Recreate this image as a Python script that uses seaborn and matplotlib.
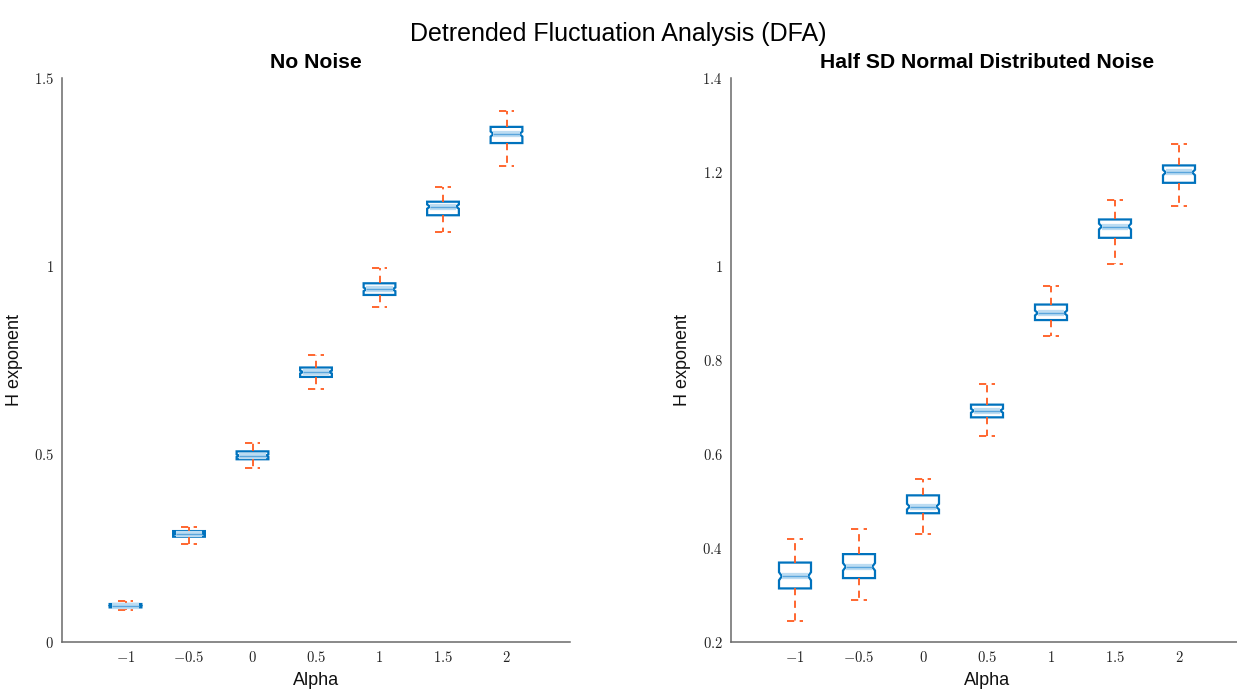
import numpy as np
import pandas as pd
import matplotlib
matplotlib.use("Agg")
import matplotlib.pyplot as plt
from matplotlib.path import Path
import seaborn as sns

alpha_labels = ["-1", "-0.5", "0", "0.5", "1", "1.5", "2"]

# No noise: whisker ends, quartiles and median
clean_lower = [0.085, 0.261, 0.463, 0.673, 0.891, 1.090, 1.265]
clean_q1 = [0.092, 0.280, 0.486, 0.705, 0.923, 1.135, 1.327]
clean_median = [0.0965, 0.288, 0.4955, 0.718, 0.938, 1.158, 1.351]
clean_q3 = [0.101, 0.295, 0.507, 0.730, 0.954, 1.171, 1.370]
clean_upper = [0.108, 0.306, 0.528, 0.763, 0.994, 1.209, 1.412]

# Half SD normal distributed noise
noisy_lower = [0.245, 0.289, 0.430, 0.638, 0.852, 1.004, 1.128]
noisy_q1 = [0.314, 0.336, 0.474, 0.678, 0.885, 1.060, 1.177]
noisy_median = [0.340, 0.360, 0.488, 0.692, 0.900, 1.084, 1.199]
noisy_q3 = [0.369, 0.387, 0.512, 0.705, 0.918, 1.099, 1.214]
noisy_upper = [0.420, 0.441, 0.547, 0.748, 0.957, 1.140, 1.259]

n_obs = 100  # runs per alpha, sets the notch height (1.57 * IQR / sqrt(n))

clean_yticks = [0, 0.5, 1, 1.5]
noisy_yticks = [0.2, 0.4, 0.6, 0.8, 1, 1.2, 1.4]

BLUE = "#0072BD"
LIGHT_BLUE = "#bcdcf2"
MID_BLUE = "#5aa5dc"
ORANGE = "#FF5A1F"
AXIS_GRAY = "#6a6a6a"


def make_frame(*stats):
    rows = []
    for i, a in enumerate(alpha_labels):
        for s in stats:
            rows.append({"Alpha": a, "H": s[i]})
    return pd.DataFrame(rows)


def draw_panel(ax, df, title, yticks, ylim):
    dash = (0, (4, 3))
    sns.boxplot(
        data=df,
        x="Alpha",
        y="H",
        order=alpha_labels,
        ax=ax,
        whis=(0, 100),
        width=0.5,
        color="white",
        saturation=1,
        linecolor=BLUE,
        linewidth=1.6,
        showfliers=False,
        shownotches=True,
        whiskerprops=dict(color=ORANGE, linestyle=dash, linewidth=1.3),
        capprops=dict(color=ORANGE, linestyle=dash, linewidth=1.3),
        medianprops=dict(color=LIGHT_BLUE, linewidth=4.5, gid="median"),
    )

    # MATLAB-style notch: shallow and short
    medians = [ln for ln in ax.lines if ln.get_gid() == "median"]
    boxes = [p for p in ax.patches if len(p.get_path().vertices) >= 11]
    for patch, med_line in zip(boxes, medians):
        path = patch.get_path()
        v = path.vertices.copy()
        left, right = v[0, 0], v[1, 0]
        q1, med, q3 = v[0, 1], v[3, 1], v[5, 1]
        half = 1.57 * (q3 - q1) / np.sqrt(n_obs)
        depth = 0.09 * (right - left)
        v[[2, 9], 1] = med - half
        v[[4, 7], 1] = med + half
        v[3, 0] = right - depth
        v[8, 0] = left + depth
        patch.set_path(Path(v, path.codes))
        patch.set_joinstyle("miter")
        med_line.set_xdata([left + depth, right - depth])
        ax.plot(med_line.get_xdata(), med_line.get_ydata(), color=MID_BLUE,
                linewidth=1.0, solid_capstyle="butt", zorder=med_line.get_zorder() + 0.1)

    ax.set_xlim(-1, len(alpha_labels))
    ax.set_ylim(*ylim)
    ax.set_xticks(range(len(alpha_labels)))
    ax.set_xticklabels([f"${a}$" for a in alpha_labels])
    ax.set_yticks(yticks)
    ax.set_yticklabels([f"${t:g}$" for t in yticks])
    ax.tick_params(direction="in", length=5, width=1, color=AXIS_GRAY,
                   labelsize=10.5, labelcolor="#222222", pad=6)
    sns.despine(ax=ax)
    for side in ["left", "bottom"]:
        ax.spines[side].set_color(AXIS_GRAY)
        ax.spines[side].set_linewidth(1.1)
    ax.set_title(title, fontsize=15.2, fontweight="bold", pad=7, color="black")
    ax.set_xlabel("Alpha", fontsize=13, labelpad=5, color="#111111")
    ax.set_ylabel("H exponent", fontsize=13, labelpad=8, color="#111111")


sns.set_style("white")
plt.rcParams["font.family"] = ["Liberation Sans", "DejaVu Sans"]
plt.rcParams["mathtext.fontset"] = "cm"

fig = plt.figure(figsize=(12.37, 6.95), dpi=100)
ax1 = fig.add_axes([62 / 1237, 53 / 695, 508 / 1237, 564 / 695])
ax2 = fig.add_axes([731 / 1237, 53 / 695, 512 / 1237, 564 / 695])

draw_panel(ax1, make_frame(clean_lower, clean_q1, clean_median, clean_q3, clean_upper),
           "No Noise", clean_yticks, (0, 1.5))
draw_panel(ax2, make_frame(noisy_lower, noisy_q1, noisy_median, noisy_q3, noisy_upper),
           "Half SD Normal Distributed Noise", noisy_yticks, (0.2, 1.4))

fig.suptitle("Detrended Fluctuation Analysis (DFA)", fontsize=18, y=0.968, color="black")

plt.savefig("out.png", dpi=100)
plt.close()
